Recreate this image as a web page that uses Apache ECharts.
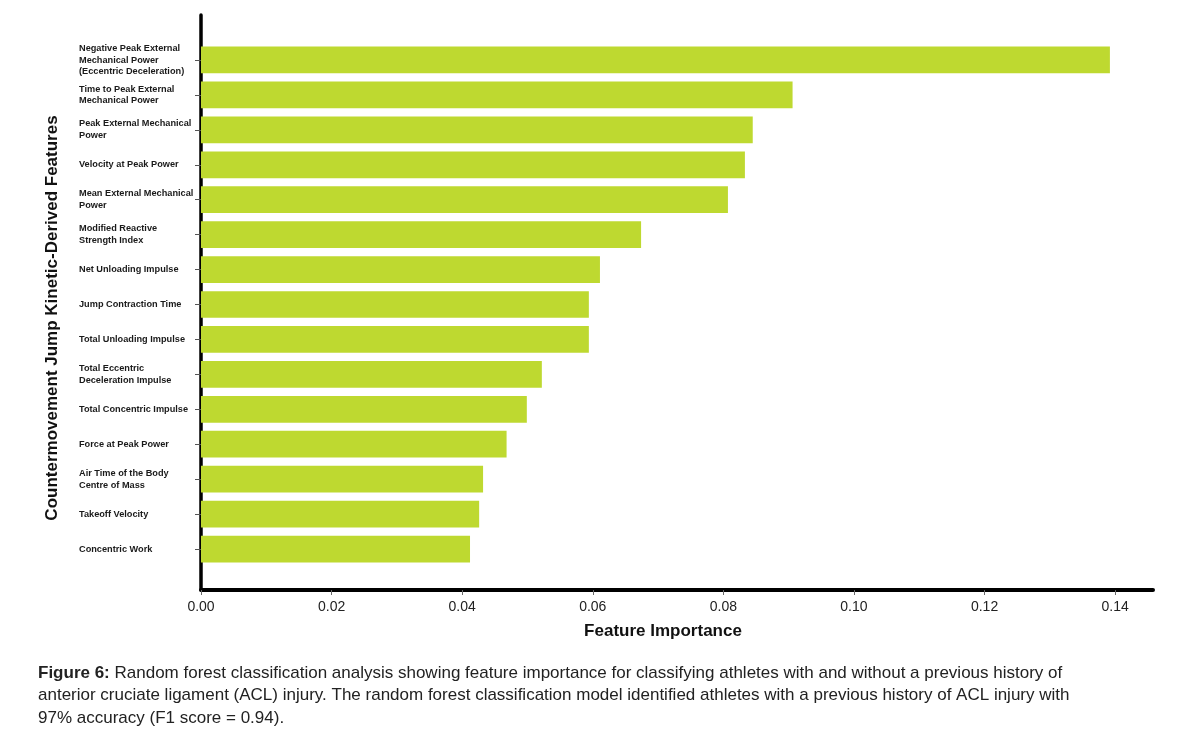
<!DOCTYPE html>
<html>
<head>
<meta charset="utf-8">
<script src="https://cdn.jsdelivr.net/npm/echarts@6/dist/echarts.min.js"></script>
<style>
html,body{margin:0;padding:0;background:#fff;}
#chart{width:1200px;height:744px;}
</style>
</head>
<body>
<div id="chart"></div>
<script>
const categories = [
  "Negative Peak External\nMechanical Power\n(Eccentric Deceleration)",
  "Time to Peak External\nMechanical Power",
  "Peak External Mechanical\nPower",
  "Velocity at Peak Power",
  "Mean External Mechanical\nPower",
  "Modified Reactive\nStrength Index",
  "Net Unloading Impulse",
  "Jump Contraction Time",
  "Total Unloading Impulse",
  "Total Eccentric\nDeceleration Impulse",
  "Total Concentric Impulse",
  "Force at Peak Power",
  "Air Time of the Body\nCentre of Mass",
  "Takeoff Velocity",
  "Concentric Work"
];
const importance = [0.1392, 0.0906, 0.0845, 0.0833, 0.0807, 0.0674, 0.0611, 0.0594, 0.0594, 0.0522, 0.0499, 0.0468, 0.0432, 0.0426, 0.0412];
const xTicks = [0, 0.02, 0.04, 0.06, 0.08, 0.10, 0.12, 0.14];
const xMax = 0.1458;
const xTitle = "Feature Importance";
const yTitle = "Countermovement Jump Kinetic-Derived Features";
const captionBold = "Figure 6:";
const captionLines = [
  " Random forest classification analysis showing feature importance for classifying athletes with and without a previous history of",
  "anterior cruciate ligament (ACL) injury. The random forest classification model identified athletes with a previous history of ACL injury with",
  "97% accuracy (F1 score = 0.94)."
];

const FONT = "Liberation Sans, Arial, Helvetica, sans-serif";
const chart = echarts.init(document.getElementById('chart'), null, {renderer: 'canvas'});

chart.setOption({
  backgroundColor: '#ffffff',
  animation: false,
  textStyle: {fontFamily: FONT},
  title: [{
    left: 38,
    top: 662,
    padding: 0,
    text: '{b|' + captionBold + '}{r|' + captionLines[0] + '}\n{r|' + captionLines[1] + '}\n{r|' + captionLines[2] + '}',
    textStyle: {
      rich: {
        b: {fontFamily: FONT, fontWeight: 'bold', fontSize: 17, color: '#222', lineHeight: 22.5},
        r: {fontFamily: FONT, fontWeight: 'normal', fontSize: 17, color: '#222', lineHeight: 22.5}
      }
    }
  }],
  grid: [
    {left: 201, right: 47, top: 15, bottom: 154, containLabel: false},
    {left: 201, right: 47, top: 42.5, bottom: 177.5, containLabel: false}
  ],
  xAxis: [
    {
      gridIndex: 0, type: 'value', min: 0, max: xMax,
      name: xTitle, nameLocation: 'middle', nameGap: 33,
      nameTextStyle: {fontFamily: FONT, fontWeight: 'bold', fontSize: 17, color: '#111', padding: [0, 28, 0, 0]},
      axisLine: {show: true, onZero: false, lineStyle: {color: '#000', width: 4}},
      axisTick: {show: true, length: 5, customValues: xTicks, lineStyle: {color: '#666', width: 1}},
      axisLabel: {show: true, customValues: xTicks, margin: 10, fontSize: 14, color: '#222', fontFamily: FONT,
        formatter: v => v.toFixed(2)},
      splitLine: {show: false}
    },
    {
      gridIndex: 1, type: 'value', min: 0, max: xMax,
      axisLine: {show: false}, axisTick: {show: false}, axisLabel: {show: false}, splitLine: {show: false}
    }
  ],
  yAxis: [
    {
      gridIndex: 0, type: 'value', min: 0, max: 1,
      name: yTitle, nameLocation: 'middle', nameRotate: 90, nameGap: 140,
      nameTextStyle: {fontFamily: FONT, fontWeight: 'bold', fontSize: 17, color: '#111', padding: [0, 31, 0, 0]},
      axisLine: {show: true, onZero: false, lineStyle: {color: '#000', width: 3.5}},
      axisTick: {show: false}, axisLabel: {show: false}, splitLine: {show: false}
    },
    {
      gridIndex: 1, type: 'category', inverse: true, data: categories,
      axisLine: {show: false},
      axisTick: {show: true, alignWithLabel: true, length: 6, lineStyle: {color: '#555', width: 1}},
      axisLabel: {show: true, align: 'left', margin: 122, fontFamily: FONT, fontWeight: 'bold',
        fontSize: 9.2, lineHeight: 11.8, color: '#1a1a1a', interval: 0},
      splitLine: {show: false}
    }
  ],
  series: [{
    type: 'bar',
    xAxisIndex: 1, yAxisIndex: 1,
    data: importance,
    barCategoryGap: '23.5%',
    itemStyle: {color: '#bed930'},
    silent: true
  }]
});
</script>
</body>
</html>
